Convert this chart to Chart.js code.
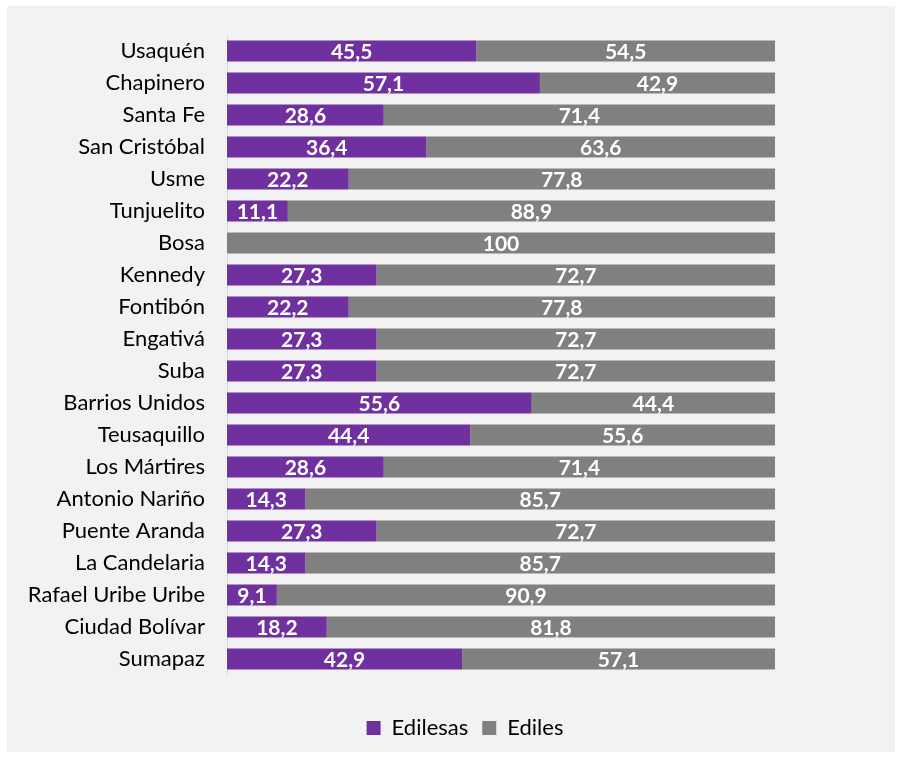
<!DOCTYPE html>
<html>
<head>
<meta charset="utf-8">
<script src="https://cdn.jsdelivr.net/npm/chart.js@4/dist/chart.umd.min.js"></script>
<style>
  html, body { margin: 0; padding: 0; background: #ffffff; }
  #wrap { position: absolute; left: 7px; top: 6px; width: 888px; height: 746px; background: #f2f2f2; }
  canvas { display: block; }
</style>
</head>
<body>
<div id="wrap"><canvas id="c" width="888" height="746"></canvas></div>
<script>
const categories = ["Usaquén","Chapinero","Santa Fe","San Cristóbal","Usme","Tunjuelito","Bosa","Kennedy","Fontibón","Engativá","Suba","Barrios Unidos","Teusaquillo","Los Mártires","Antonio Nariño","Puente Aranda","La Candelaria","Rafael Uribe Uribe","Ciudad Bolívar","Sumapaz"];
const edilesas = [45.5,57.1,28.6,36.4,22.2,11.1,0,27.3,22.2,27.3,27.3,55.6,44.4,28.6,14.3,27.3,14.3,9.1,18.2,42.9];
const ediles   = [54.5,42.9,71.4,63.6,77.8,88.9,100,72.7,77.8,72.7,72.7,44.4,55.6,71.4,85.7,72.7,85.7,90.9,81.8,57.1];

const FONT = "Lato, 'Open Sans', sans-serif";

const labelPlugin = {
  id: 'segLabels',
  afterLayout(chart) {
    const lg = chart.legend;
    if (lg) { lg.left += 74; lg.right += 74; }
  },
  afterDatasetsDraw(chart) {
    const ctx = chart.ctx;
    ctx.save();
    ctx.font = "bold 21px " + FONT;
    ctx.fillStyle = "#ffffff";
    ctx.textAlign = "center";
    ctx.textBaseline = "middle";
    chart.data.datasets.forEach((ds, di) => {
      const meta = chart.getDatasetMeta(di);
      meta.data.forEach((bar, i) => {
        const v = ds.data[i];
        if (!v) return;
        const p = bar.getProps(['x','y','base'], true);
        const cx = (p.x + p.base) / 2;
        ctx.fillText(String(v).replace('.', ','), cx, p.y + 1);
      });
    });
    ctx.restore();
  }
};

new Chart(document.getElementById('c'), {
  type: 'bar',
  data: {
    labels: categories,
    datasets: [
      { label: 'Edilesas', data: edilesas, backgroundColor: '#7030a0', borderWidth: 0, barPercentage: 1, categoryPercentage: 0.66 },
      { label: 'Ediles', data: ediles, backgroundColor: '#808080', borderWidth: 0, barPercentage: 1, categoryPercentage: 0.66 }
    ]
  },
  options: {
    indexAxis: 'y',
    responsive: false,
    animation: false,
    layout: { padding: { top: 29, right: 120, left: 0, bottom: 3 } },
    scales: {
      x: {
        stacked: true, min: 0, max: 100,
        grid: { display: false },
        border: { display: false },
        ticks: { display: false },
        afterFit: s => { s.height = 28; }
      },
      y: {
        stacked: true,
        grid: { display: false, drawTicks: false },
        border: { display: true, color: '#d9d9d9', width: 1 },
        ticks: { color: '#000000', font: { size: 22, family: FONT }, padding: 22 },
        afterFit: s => { s.width = 220; s.paddingTop = 0; s.paddingBottom = 0; }
      }
    },
    plugins: {
      legend: {
        position: 'bottom',
        labels: { color: '#000000', font: { size: 22, family: FONT }, boxWidth: 14, boxHeight: 14, padding: 14 }
      },
      tooltip: { enabled: false }
    }
  },
  plugins: [labelPlugin]
});
</script>
</body>
</html>
